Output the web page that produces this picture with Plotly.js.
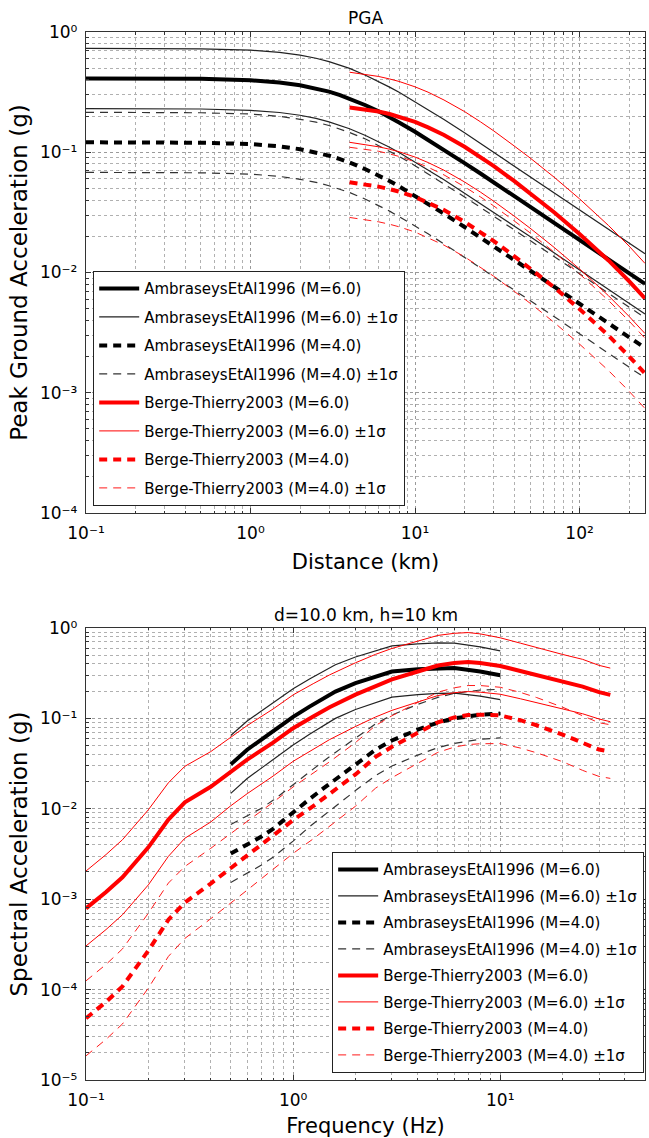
<!DOCTYPE html>
<html>
<head>
<meta charset="utf-8">
<script src="https://cdn.plot.ly/plotly-3.0.1.min.js"></script>
<style>html,body{margin:0;padding:0;background:#fff;}#chart{width:649px;height:1138px;}</style>
</head>
<body>
<div id="chart"></div>
<script>
// ---------------- DATA ----------------
// Top panel: PGA vs distance (km)
var distA = [0.1, 0.2, 0.5, 1, 1.5, 2, 2.5, 3, 3.5, 4, 5, 6, 7, 8, 10, 12, 15, 20, 25, 30, 40, 50, 70, 100, 150, 200, 250];
var pgaA6   = [0.411, 0.411, 0.408, 0.397, 0.381, 0.361, 0.340, 0.319, 0.299, 0.280, 0.246, 0.219, 0.196, 0.177, 0.148, 0.127, 0.105, 0.0813, 0.0666, 0.0564, 0.0434, 0.0354, 0.0260, 0.0187, 0.0129, 0.00987, 0.00804];
var pgaA6hi = [0.731, 0.731, 0.725, 0.706, 0.677, 0.642, 0.605, 0.567, 0.532, 0.498, 0.437, 0.389, 0.348, 0.315, 0.263, 0.226, 0.187, 0.145, 0.118, 0.100, 0.0772, 0.0629, 0.0462, 0.0332, 0.0229, 0.0175, 0.0143];
var pgaA6lo = [0.231, 0.231, 0.229, 0.223, 0.214, 0.203, 0.191, 0.179, 0.168, 0.157, 0.138, 0.123, 0.110, 0.0996, 0.0832, 0.0714, 0.0591, 0.0457, 0.0375, 0.0317, 0.0244, 0.0199, 0.0146, 0.0105, 0.00726, 0.00555, 0.00452];
var pgaA4   = [0.121, 0.121, 0.120, 0.117, 0.112, 0.106, 0.0999, 0.0937, 0.0878, 0.0823, 0.0723, 0.0643, 0.0576, 0.0520, 0.0435, 0.0373, 0.0308, 0.0239, 0.0196, 0.0166, 0.0128, 0.0104, 0.00764, 0.00549, 0.00379, 0.00290, 0.00236];
var pgaA4hi = [0.215, 0.215, 0.213, 0.208, 0.199, 0.188, 0.178, 0.167, 0.156, 0.146, 0.129, 0.114, 0.102, 0.0925, 0.0773, 0.0663, 0.0548, 0.0425, 0.0348, 0.0295, 0.0228, 0.0185, 0.0136, 0.00976, 0.00674, 0.00516, 0.00420];
var pgaA4lo = [0.0680, 0.0680, 0.0675, 0.0658, 0.0630, 0.0596, 0.0562, 0.0527, 0.0494, 0.0463, 0.0407, 0.0362, 0.0324, 0.0292, 0.0245, 0.0210, 0.0173, 0.0134, 0.0110, 0.00934, 0.00720, 0.00585, 0.00430, 0.00309, 0.00213, 0.00163, 0.00133];

var distB = [4, 5, 6, 7, 8, 10, 12, 15, 20, 25, 30, 40, 50, 70, 100, 150, 200, 250];
var pgaB6   = [0.236, 0.228, 0.218, 0.208, 0.198, 0.179, 0.161, 0.139, 0.111, 0.0913, 0.0770, 0.0578, 0.0458, 0.0317, 0.0209, 0.0126, 0.00847, 0.00609];
var pgaB6hi = [0.463, 0.446, 0.427, 0.407, 0.388, 0.350, 0.316, 0.272, 0.218, 0.179, 0.151, 0.113, 0.0898, 0.0621, 0.0410, 0.0246, 0.0166, 0.0119];
var pgaB6lo = [0.121, 0.116, 0.111, 0.106, 0.101, 0.0912, 0.0822, 0.0709, 0.0566, 0.0466, 0.0393, 0.0295, 0.0234, 0.0162, 0.0107, 0.00641, 0.00432, 0.00311];
var pgaB4   = [0.0562, 0.0541, 0.0518, 0.0494, 0.0471, 0.0425, 0.0383, 0.0331, 0.0264, 0.0217, 0.0183, 0.0137, 0.0109, 0.00754, 0.00497, 0.00299, 0.00201, 0.00145];
var pgaB4hi = [0.110, 0.106, 0.102, 0.0969, 0.0923, 0.0833, 0.0751, 0.0648, 0.0517, 0.0425, 0.0359, 0.0269, 0.0214, 0.0148, 0.00974, 0.00585, 0.00395, 0.00284];
var pgaB4lo = [0.0287, 0.0276, 0.0264, 0.0252, 0.0240, 0.0217, 0.0195, 0.0169, 0.0135, 0.0111, 0.00934, 0.00699, 0.00556, 0.00385, 0.00254, 0.00153, 0.00103, 0.00074];

// Bottom panel: spectral acceleration vs frequency (Hz)
var freqA = [0.5, 0.6, 0.7, 0.8, 1, 1.2, 1.4, 1.6, 2, 2.5, 3, 4, 5, 6, 8, 10];
var saA6   = [0.031, 0.045, 0.058, 0.072, 0.104, 0.135, 0.167, 0.198, 0.245, 0.29, 0.33, 0.35, 0.36, 0.36, 0.33, 0.30];
var saA6hi = [0.0648, 0.0936, 0.120, 0.148, 0.213, 0.273, 0.334, 0.392, 0.478, 0.560, 0.634, 0.669, 0.684, 0.680, 0.617, 0.558];
var saA6lo = [0.0148, 0.0216, 0.0280, 0.0350, 0.0507, 0.0668, 0.0835, 0.100, 0.1256, 0.150, 0.172, 0.183, 0.189, 0.190, 0.176, 0.161];
var saA4   = [0.0032, 0.0040, 0.0049, 0.0060, 0.0092, 0.0128, 0.0168, 0.0212, 0.031, 0.045, 0.057, 0.075, 0.09, 0.1, 0.11, 0.113];
var saA4hi = [0.00669, 0.00832, 0.0101, 0.0124, 0.0185, 0.0259, 0.0336, 0.042, 0.0605, 0.0869, 0.109, 0.143, 0.171, 0.189, 0.206, 0.210];
var saA4lo = [0.00153, 0.00192, 0.00237, 0.00291, 0.00439, 0.00634, 0.0084, 0.0107, 0.0159, 0.0233, 0.0297, 0.0393, 0.0474, 0.0529, 0.0588, 0.0608];

var freqB = [0.1, 0.125, 0.15, 0.2, 0.25, 0.3, 0.4, 0.5, 0.6, 0.8, 1, 1.25, 1.5, 2, 2.5, 3, 4, 5, 6, 7, 8, 10, 12.5, 15, 20, 25, 30, 34];
var saB6   = [0.00079, 0.0012, 0.00175, 0.00375, 0.0076, 0.0118, 0.0175, 0.026, 0.035, 0.054, 0.078, 0.105, 0.133, 0.183, 0.23, 0.27, 0.33, 0.385, 0.41, 0.42, 0.41, 0.38, 0.335, 0.3, 0.255, 0.225, 0.195, 0.182];
var saB6hi = [0.00205, 0.00312, 0.00455, 0.00975, 0.0194, 0.0295, 0.0429, 0.0624, 0.0833, 0.127, 0.182, 0.242, 0.303, 0.412, 0.511, 0.594, 0.716, 0.828, 0.873, 0.890, 0.861, 0.779, 0.680, 0.606, 0.510, 0.450, 0.386, 0.360];
var saB6lo = [0.000304, 0.000462, 0.000673, 0.00144, 0.00298, 0.00472, 0.00714, 0.0108, 0.0147, 0.0230, 0.0335, 0.0457, 0.0583, 0.0813, 0.1036, 0.1227, 0.152, 0.179, 0.1925, 0.198, 0.195, 0.185, 0.165, 0.1485, 0.1275, 0.1125, 0.0985, 0.0919];
var saB4   = [0.0000482, 0.0000732, 0.0001085, 0.00027, 0.000593, 0.00092, 0.00149, 0.00221, 0.00301, 0.00502, 0.00749, 0.0107, 0.0145, 0.024, 0.0375, 0.0486, 0.0693, 0.0905, 0.1025, 0.109, 0.110, 0.108, 0.0955, 0.084, 0.0663, 0.0531, 0.0452, 0.043];
var saB4hi = [0.000125, 0.00019, 0.000282, 0.0007, 0.00151, 0.0023, 0.00365, 0.0053, 0.00716, 0.0118, 0.01745, 0.0246, 0.0331, 0.054, 0.0833, 0.107, 0.150, 0.195, 0.218, 0.231, 0.231, 0.221, 0.194, 0.170, 0.133, 0.106, 0.0895, 0.0851];
var saB4lo = [0.0000185, 0.0000282, 0.0000417, 0.000104, 0.000233, 0.000368, 0.000608, 0.00092, 0.00126, 0.00214, 0.00321, 0.00465, 0.00636, 0.01067, 0.0169, 0.0221, 0.0319, 0.0421, 0.0481, 0.0514, 0.0524, 0.0527, 0.047, 0.0416, 0.0332, 0.0266, 0.0228, 0.0217];

// Series labels
var sigmaTxt = ' ±1σ';
var labA6 = 'AmbraseysEtAl1996 (M=6.0)';
var labA4 = 'AmbraseysEtAl1996 (M=4.0)';
var labB6 = 'Berge-Thierry2003 (M=6.0)';
var labB4 = 'Berge-Thierry2003 (M=4.0)';

// Tick labels
var xTopTickVals = [0.1, 1, 10, 100];
var xTopTickText = ['10⁻¹', '10⁰', '10¹', '10²'];
var yTopTickVals = [1e-4, 1e-3, 1e-2, 1e-1, 1];
var yTopTickText = ['10⁻⁴', '10⁻³', '10⁻²', '10⁻¹', '10⁰'];
var xBotTickVals = [0.1, 1, 10];
var xBotTickText = ['10⁻¹', '10⁰', '10¹'];
var yBotTickVals = [1e-5, 1e-4, 1e-3, 1e-2, 1e-1, 1];
var yBotTickText = ['10⁻⁵', '10⁻⁴', '10⁻³', '10⁻²', '10⁻¹', '10⁰'];

// ---------------- STYLE ----------------
var FONT = 'DejaVu Sans';
var DASH = '8px,6px';
function minorVals(lo, hi) {
  var v = [];
  for (var e = lo; e < hi; e++) {
    for (var k = 2; k <= 9; k++) v.push(k * Math.pow(10, e));
  }
  return v;
}
var styles = [
  {color: '#000000', width: 4, dash: 'solid'},
  {color: '#222222', width: 1.2, dash: 'solid'},
  {color: '#000000', width: 4, dash: DASH},
  {color: '#333333', width: 1.2, dash: DASH},
  {color: '#ff0000', width: 4, dash: 'solid'},
  {color: '#ff0000', width: 1, dash: 'solid'},
  {color: '#ff0000', width: 4, dash: DASH},
  {color: '#ff1a1a', width: 1, dash: DASH}
];
var names = [labA6, labA6 + sigmaTxt, labA4, labA4 + sigmaTxt, labB6, labB6 + sigmaTxt, labB4, labB4 + sigmaTxt];

var traces = [];
function addSeries(idx, x, ys, xa, ya, leg) {
  for (var i = 0; i < ys.length; i++) {
    traces.push({
      type: 'scatter', mode: 'lines', x: x, y: ys[i], xaxis: xa, yaxis: ya,
      name: names[idx], legend: leg, legendgroup: leg + '_' + idx,
      showlegend: i === 0,
      line: {color: styles[idx].color, width: styles[idx].width, dash: styles[idx].dash, shape: 'linear'},
      hoverinfo: 'skip'
    });
  }
}
// top panel
addSeries(0, distA, [pgaA6], 'x', 'y', 'legend');
addSeries(1, distA, [pgaA6hi, pgaA6lo], 'x', 'y', 'legend');
addSeries(2, distA, [pgaA4], 'x', 'y', 'legend');
addSeries(3, distA, [pgaA4hi, pgaA4lo], 'x', 'y', 'legend');
addSeries(4, distB, [pgaB6], 'x', 'y', 'legend');
addSeries(5, distB, [pgaB6hi, pgaB6lo], 'x', 'y', 'legend');
addSeries(6, distB, [pgaB4], 'x', 'y', 'legend');
addSeries(7, distB, [pgaB4hi, pgaB4lo], 'x', 'y', 'legend');
// bottom panel
addSeries(0, freqA, [saA6], 'x2', 'y2', 'legend2');
addSeries(1, freqA, [saA6hi, saA6lo], 'x2', 'y2', 'legend2');
addSeries(2, freqA, [saA4], 'x2', 'y2', 'legend2');
addSeries(3, freqA, [saA4hi, saA4lo], 'x2', 'y2', 'legend2');
addSeries(4, freqB, [saB6], 'x2', 'y2', 'legend2');
addSeries(5, freqB, [saB6hi, saB6lo], 'x2', 'y2', 'legend2');
addSeries(6, freqB, [saB4], 'x2', 'y2', 'legend2');
addSeries(7, freqB, [saB4hi, saB4lo], 'x2', 'y2', 'legend2');

function logAxis(range, tv, tt, minor, extra) {
  var a = {
    type: 'log', range: range, autorange: false,
    tickmode: 'array', tickvals: tv, ticktext: tt,
    ticks: 'inside', ticklen: 5, tickwidth: 1, tickcolor: '#333',
    showline: true, linecolor: '#333', linewidth: 1.2, mirror: 'allticks',
    showgrid: true, gridcolor: '#9a9a9a', griddash: 'dot', gridwidth: 1,
    zeroline: false,
    tickfont: {family: FONT, size: 17, color: '#000'},
    minor: {tickmode: 'array', tickvals: minor, ticks: 'inside', ticklen: 2.5, tickcolor: '#333',
            showgrid: true, gridcolor: '#b0b0b0', griddash: 'dot', gridwidth: 1},
    automargin: false, fixedrange: true
  };
  for (var k in extra) a[k] = extra[k];
  return a;
}

var layout = {
  width: 649, height: 1138,
  margin: {l: 86, r: 4, t: 32, b: 58},
  paper_bgcolor: '#fff', plot_bgcolor: '#fff',
  font: {family: FONT, color: '#000'},
  title: {text: 'PGA', font: {family: FONT, size: 17, color: '#000'},
          x: 0.5, xref: 'paper', xanchor: 'center', y: 1 - 18 / 1138, yref: 'container', yanchor: 'middle'},
  xaxis: logAxis([-1, Math.log10(250)], xTopTickVals, xTopTickText, minorVals(-1, 3),
    {domain: [0, 1], anchor: 'y', ticklabelstandoff: 4,
     title: {text: 'Distance (km)', font: {family: FONT, size: 21, color: '#000'}, standoff: 12}}),
  yaxis: logAxis([-4, 0], yTopTickVals, yTopTickText, minorVals(-4, 0),
    {domain: [0.541, 1], anchor: 'x', ticklabelstandoff: 4,
     title: {text: 'Peak Ground Acceleration (g)', font: {family: FONT, size: 23, color: '#000'}, standoff: 6}}),
  xaxis2: logAxis([-1, Math.log10(50)], xBotTickVals, xBotTickText, minorVals(-1, 2),
    {domain: [0, 1], anchor: 'y2', ticklabelstandoff: 4,
     title: {text: 'Frequency (Hz)', font: {family: FONT, size: 21, color: '#000'}, standoff: 9}}),
  yaxis2: logAxis([-5, 0], yBotTickVals, yBotTickText, minorVals(-5, 0),
    {domain: [0, 0.4313], anchor: 'x2', ticklabelstandoff: 4,
     title: {text: 'Spectral Acceleration (g)', font: {family: FONT, size: 23, color: '#000'}, standoff: 6}}),
  legend: {
    x: 0.0125, y: 0.772, xanchor: 'left', yanchor: 'top', xref: 'paper', yref: 'paper',
    bgcolor: '#fff', bordercolor: '#222', borderwidth: 1.2,
    font: {family: FONT, size: 15, color: '#000'},
    tracegroupgap: 6, itemwidth: 40, traceorder: 'grouped'
  },
  legend2: {
    x: 0.440, y: 0.2176, xanchor: 'left', yanchor: 'top', xref: 'paper', yref: 'paper',
    bgcolor: '#fff', bordercolor: '#222', borderwidth: 1.2,
    font: {family: FONT, size: 15, color: '#000'},
    tracegroupgap: 4, itemwidth: 40, traceorder: 'grouped'
  },
  annotations: [{
    text: 'd=10.0 km, h=10 km', xref: 'paper', yref: 'paper', x: 0.5, y: (1080 - 615) / 1048,
    xanchor: 'center', yanchor: 'middle', showarrow: false,
    font: {family: FONT, size: 17, color: '#000'}
  }],
  showlegend: true,
  hovermode: false
};

Plotly.newPlot('chart', traces, layout, {staticPlot: true, displayModeBar: false});
</script>
</body>
</html>
